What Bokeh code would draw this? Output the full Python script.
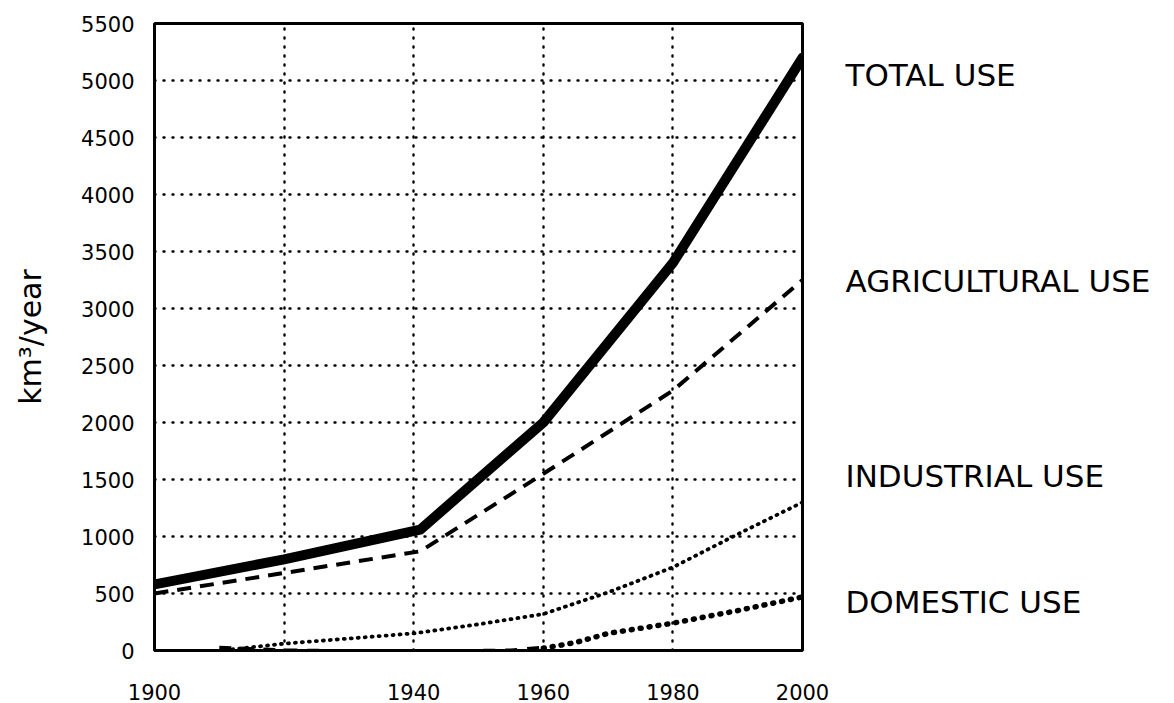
from bokeh.plotting import figure
from bokeh.models import Range1d, FixedTicker, LinearAxis
from bokeh.embed import file_html
from bokeh.resources import INLINE

# ---- data ----
years = [1900, 1920, 1940, 1960, 1980, 2000]
x_tick_labels = {1900: "1900", 1920: "", 1940: "1940", 1960: "1960", 1980: "1980", 2000: "2000"}
y_ticks = [0, 500, 1000, 1500, 2000, 2500, 3000, 3500, 4000, 4500, 5000, 5500]

total_years = [1900, 1920, 1941, 1960, 1980, 2000]
total = [580, 800, 1060, 2000, 3400, 5200]

agri_years = [1900, 1920, 1941, 1960, 1980, 2000]
agri = [500, 680, 870, 1550, 2280, 3250]

ind_years = [1912, 1920, 1930, 1940, 1950, 1960, 1970, 1980, 1990, 2000]
industrial = [10, 60, 105, 150, 230, 320, 510, 730, 1020, 1300]

dom_dash_years = [1910, 1920, 1940, 1955, 1960]
dom_dash = [25, 0, -10, 0, 25]
dom_years = [1960, 1965, 1970, 1980, 1990, 2000]
domestic = [20, 70, 150, 240, 350, 470]

series_labels = ["TOTAL USE", "AGRICULTURAL USE", "INDUSTRIAL USE", "DOMESTIC USE"]
label_y = [5050, 3240, 1530, 425]

FONT = "DejaVu Sans"

p = figure(width=1174, height=703, output_backend="svg", toolbar_location=None,
           x_range=Range1d(1900, 2000), y_range=Range1d(0, 5500),
           min_border_left=154, min_border_right=372, min_border_top=23, min_border_bottom=53,
           background_fill_color="white", border_fill_color="white")

p.outline_line_color = "black"
p.outline_line_width = 3

p.xaxis.ticker = FixedTicker(ticks=years)
p.xaxis.major_label_overrides = x_tick_labels
p.yaxis.ticker = FixedTicker(ticks=y_ticks)
for ax in (p.xaxis[0], p.yaxis[0]):
    ax.axis_line_color = None
    ax.major_tick_line_color = None
    ax.minor_tick_line_color = None
    ax.major_label_text_font = FONT
    ax.major_label_text_font_size = "21px"
    ax.major_label_text_color = "black"
p.xaxis.major_label_standoff = 27
p.yaxis.major_label_standoff = 14

p.yaxis.axis_label = "km³/year"
p.yaxis.axis_label_text_font = FONT
p.yaxis.axis_label_text_font_size = "30px"
p.yaxis.axis_label_text_font_style = "normal"
p.yaxis.axis_label_text_color = "black"
p.yaxis.axis_label_standoff = 30

# series names written at the right of the frame, on an axis of their own
name_axis = LinearAxis(ticker=FixedTicker(ticks=label_y),
                       major_label_overrides=dict(zip(label_y, series_labels)),
                       axis_line_color=None, major_tick_line_color=None,
                       minor_tick_line_color=None, major_label_standoff=37,
                       major_label_text_font=FONT, major_label_text_font_size="31px",
                       major_label_text_color="black")
p.add_layout(name_axis, "right")

for g in (p.xgrid[0], p.ygrid[0]):
    g.grid_line_color = "black"
    g.grid_line_width = 2.4
    g.grid_line_dash = "1 8"
    g.grid_line_cap = "round"
p.xgrid[0].ticker = FixedTicker(ticks=[1920, 1940, 1960, 1980])
p.ygrid[0].ticker = FixedTicker(ticks=y_ticks[1:-1])

# lines
p.line(total_years, total, line_color="black", line_width=10, line_join="round", line_cap="round")
p.line(agri_years, agri, line_color="black", line_width=4, line_dash="14 9", line_join="round")
p.line(ind_years, industrial, line_color="black", line_width=3.8, line_dash="1 6", line_cap="round")
p.line(dom_dash_years, dom_dash, line_color="black", line_width=4, line_dash="12 10")
p.line(dom_years, domestic, line_color="black", line_width=5.5, line_dash="1 8", line_cap="round")

open("out.html", "w").write(file_html(p, INLINE))
